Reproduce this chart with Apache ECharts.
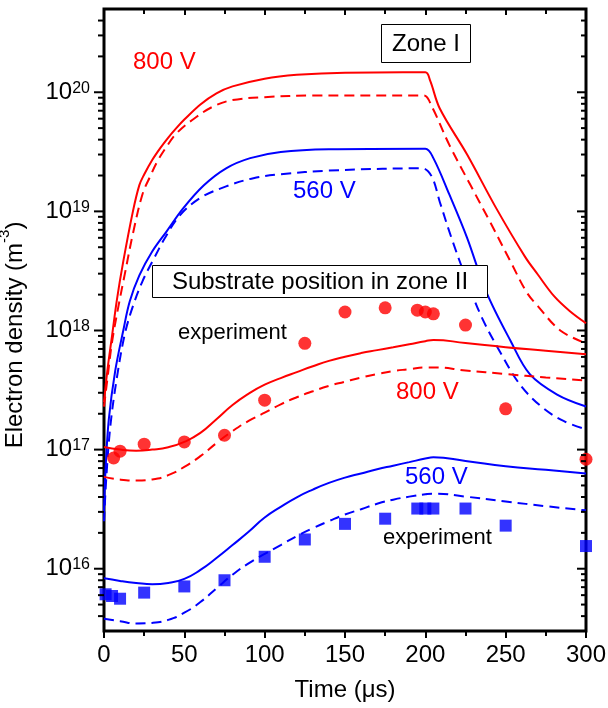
<!DOCTYPE html>
<html>
<head>
<meta charset="utf-8">
<script src="https://cdn.jsdelivr.net/npm/echarts@6/dist/echarts.min.js"></script>
<style>
  html, body { margin: 0; padding: 0; background: #fff; }
  #chart { width: 608px; height: 708px; }
</style>
</head>
<body>
<div id="chart"></div>
<script>
// time in us, electron density in m^-3
// zone I, 800 V
const zone1Red800 = [[0,2.5e17],[2,4.5e17],[5,9e17],[8,1.8e18],[12,3.8e18],[18,1e19],[22,1.66e19],[25,2.04e19],[30,2.7e19],[35,3.4e19],[40,4.17e19],[45,5e19],[50,5.9e19],[60,7.9e19],[70,9.8e19],[80,1.12e20],[100,1.3e20],[120,1.4e20],[150,1.46e20],[200,1.47e20],[203,1.25e20],[209,7.3e19],[226,3e19],[244,1.07e19],[262,4.17e18],[270,2.95e18],[280,1.95e18],[290,1.45e18],[300,1.15e18]];
const zone1Red800Dash = [[0,2.3e17],[2,3.8e17],[5,8e17],[9,1.6e18],[13,3e18],[18,6.5e18],[24,1.4e19],[29,2e19],[33,2.6e19],[39,3.5e19],[45,4.5e19],[56,6e19],[68,7.6e19],[80,8.6e19],[100,9.1e19],[130,9.4e19],[199,9.4e19],[204,7.6e19],[215,3.6e19],[228,1.67e19],[240,8.3e18],[253,3.8e18],[263,2.1e18],[270,1.6e18],[284,1e18],[300,7.8e17]];
// zone I, 560 V
const zone1Blue560 = [[0,3e16],[1,7e16],[3,1.8e17],[7,4.6e17],[12,1e18],[16,1.75e18],[22,2.9e18],[30,4.6e18],[39,6.8e18],[49,1.05e19],[62,1.65e19],[76,2.3e19],[91,2.8e19],[110,3.15e19],[140,3.32e19],[200,3.36e19],[205,2.8e19],[215,1.38e19],[226,6e18],[238,2.1e18],[253,8.2e17],[265,4.3e17],[282,2.9e17],[300,2.3e17]];
const zone1Blue560Dash = [[0,2.5e16],[1.5,6e16],[4,1.6e17],[8,4e17],[13,9.4e17],[18,1.6e18],[24,2.6e18],[31,4e18],[38,6e18],[47,9.2e18],[60,1.3e19],[76,1.62e19],[93,1.9e19],[110,2.05e19],[140,2.2e19],[198,2.3e19],[204,1.96e19],[209,1.2e19],[217,5.6e18],[226,2.6e18],[235,1.3e18],[246,6.8e17],[259,3.5e17],[273,2.25e17],[286,1.74e17],[300,1.48e17]];
// substrate in zone II (t = 0..200 step 10, then 205, 225, 250, 275, 300)
const zone2Time = [0,10,20,30,40,50,60,70,80,90,100,110,120,130,140,150,160,170,180,190,200,205,225,250,275,300];
const zone2Red800 = [1.05e17,1e17,9.8e16,1e17,1.047e17,1.16e17,1.38e17,1.8e17,2.37e17,2.95e17,3.51e17,3.98e17,4.47e17,5.01e17,5.56e17,6.03e17,6.46e17,6.84e17,7.24e17,7.67e17,8.13e17,8.32e17,7.85e17,7.24e17,6.76e17,6.31e17];
const zone2Red800Dash = [5.9e16,5.6e16,5.5e16,5.62e16,6.1e16,7.16e16,8.81e16,1.135e17,1.43e17,1.74e17,2.04e17,2.4e17,2.75e17,3.09e17,3.43e17,3.72e17,4.03e17,4.31e17,4.57e17,4.73e17,4.9e17,4.9e17,4.62e17,4.31e17,4.03e17,3.8e17];
const zone2Blue560 = [8.3e15,7.9e15,7.6e15,7.41e15,7.59e15,8.22e15,9.77e15,1.23e16,1.58e16,2.04e16,2.69e16,3.31e16,3.98e16,4.62e16,5.25e16,5.82e16,6.31e16,6.84e16,7.33e16,7.85e16,8.41e16,8.61e16,8.04e16,7.24e16,6.76e16,6.31e16];
const zone2Blue560Dash = [3.8e15,3.63e15,3.47e15,3.51e15,3.72e15,4.27e15,5.25e15,6.84e15,8.91e15,1.11e16,1.33e16,1.58e16,1.88e16,2.19e16,2.51e16,2.85e16,3.16e16,3.51e16,3.8e16,4.03e16,4.22e16,4.27e16,4.03e16,3.67e16,3.35e16,3.09e16];
// experiment
const expRed800 = [[6,8.5e16],[10,9.7e16],[25,1.11e17],[50,1.16e17],[75,1.32e17],[100,2.6e17],[125,7.8e17],[150,1.43e18],[175,1.55e18],[195,1.48e18],[200,1.43e18],[205,1.38e18],[225,1.11e18],[250,2.2e17],[300,8.3e16]];
const expBlue560 = [[1,6.1e15],[5,5.9e15],[10,5.6e15],[25,6.3e15],[50,7.1e15],[75,8e15],[100,1.26e16],[125,1.76e16],[150,2.38e16],[175,2.63e16],[195,3.2e16],[200,3.2e16],[205,3.2e16],[225,3.2e16],[250,2.3e16],[300,1.55e16]];

// axis ticks
const yDecades = [15, 16, 17, 18, 19, 20];
const yMinorSteps = [2, 3, 4, 5, 6, 7, 8, 9];
const yMin = 3e15, yMax = 5e20;

const RED = '#ff0000', BLUE = '#0000ff';
const FONT = 'Liberation Sans';

let yTicks = [];
for (const d of yDecades) {
    if (d >= 16) yTicks.push([0, Math.pow(10, d), 1]);
    for (const m of yMinorSteps) {
        const v = m * Math.pow(10, d);
        if (v > yMin && v < yMax) yTicks.push([0, v, 0]);
    }
}

function pairs(xs, ys) {
    return xs.map(function (x, i) { return [x, ys[i]]; });
}

function curve(data, color, dashed, smooth) {
    return {
        type: 'line',
        data: data,
        smooth: smooth,
        showSymbol: false,
        symbol: 'none',
        lineStyle: { color: color, width: 2, type: dashed ? [10, 6] : 'solid' },
        z: 3
    };
}

const chart = echarts.init(document.getElementById('chart'));
chart.setOption({
    backgroundColor: '#fff',
    animation: false,
    grid: {
        left: 104, right: 22, top: 9, bottom: 77,
        outerBoundsMode: 'none',
        show: true, borderColor: '#000', borderWidth: 3
    },
    xAxis: [{
        type: 'value',
        min: 0, max: 300, interval: 50,
        name: 'Time (\u03bcs)',
        nameLocation: 'middle',
        nameGap: 47,
        nameTextStyle: { fontFamily: FONT, fontSize: 24, color: '#000' },
        axisLine: { show: false },
        axisTick: { show: true, inside: false, length: 7, lineStyle: { color: '#000', width: 2 } },
        minorTick: { show: true, splitNumber: 2, length: 5, lineStyle: { color: '#000', width: 2 } },
        axisLabel: { margin: 12, fontFamily: FONT, fontSize: 24, color: '#000' },
        splitLine: { show: false }
    }, {
        type: 'value',
        position: 'top',
        min: 0, max: 300, interval: 50,
        axisLine: { show: false },
        axisTick: { show: true, inside: true, length: 6, lineStyle: { color: '#000', width: 2 } },
        minorTick: { show: true, splitNumber: 2, length: 5, lineStyle: { color: '#000', width: 2 } },
        axisLabel: { show: false },
        splitLine: { show: false }
    }],
    yAxis: {
        type: 'log',
        logBase: 10,
        min: yMin, max: yMax,
        name: '{n|Electron density (m}{s|-3}{n|)}',
        nameLocation: 'middle',
        nameGap: 77,
        nameRotate: 90,
        nameTextStyle: {
            padding: [0, 30, 0, 0],
            rich: {
                n: { fontFamily: FONT, fontSize: 24, color: '#000', lineHeight: 30, verticalAlign: 'bottom' },
                s: { fontFamily: FONT, fontSize: 15, color: '#000', lineHeight: 18, verticalAlign: 'top' }
            }
        },
        axisLine: { show: false },
        axisTick: { show: false },
        splitLine: { show: false },
        axisLabel: {
            margin: 14,
            showMinLabel: false,
            showMaxLabel: false,
            formatter: function (v) {
                return '{b|10}{s|' + Math.round(Math.log10(v)) + '}';
            },
            rich: {
                b: { fontFamily: FONT, fontSize: 24, color: '#000', lineHeight: 24, verticalAlign: 'bottom' },
                s: { fontFamily: FONT, fontSize: 16, color: '#000', lineHeight: 16, verticalAlign: 'top' }
            },
            lineHeight: 30
        }
    },
    series: [
        curve(zone1Red800, RED, false, 0.35),
        curve(zone1Red800Dash, RED, true, 0.35),
        curve(zone1Blue560, BLUE, false, 0.35),
        curve(zone1Blue560Dash, BLUE, true, 0.35),
        curve(pairs(zone2Time, zone2Red800), RED, false, 0.5),
        curve(pairs(zone2Time, zone2Red800Dash), RED, true, 0.5),
        curve(pairs(zone2Time, zone2Blue560), BLUE, false, 0.5),
        curve(pairs(zone2Time, zone2Blue560Dash), BLUE, true, 0.5),
        {
            type: 'scatter', data: expRed800, symbol: 'circle', symbolSize: 13,
            itemStyle: { color: RED }, z: 4
        },
        {
            type: 'scatter', data: expBlue560, symbol: 'rect', symbolSize: 12,
            itemStyle: { color: BLUE }, z: 4
        },
        {
            // log minor/major ticks on left (outside) and right (inside)
            type: 'custom',
            data: yTicks,
            silent: true,
            clip: false,
            z: 5,
            renderItem: function (params, api) {
                const v = api.value(1);
                const major = api.value(2) === 1;
                const l = api.coord([0, v]);
                const r = api.coord([300, v]);
                const st = { stroke: '#000', lineWidth: 2 };
                return {
                    type: 'group',
                    children: [
                        { type: 'line', shape: { x1: l[0] - (major ? 10 : 6), y1: l[1], x2: l[0], y2: l[1] }, style: st },
                        { type: 'line', shape: { x1: r[0], y1: r[1], x2: r[0] - (major ? 9 : 5), y2: r[1] }, style: st }
                    ]
                };
            }
        }
    ],
    graphic: [
        { type: 'text', x: 133, y: 62, z: 100, style: { text: '800 V', fill: RED, font: '24px "Liberation Sans"', textAlign: 'left', textVerticalAlign: 'middle' } },
        { type: 'rect', z: 100, shape: { x: 381.5, y: 24.5, width: 89, height: 38 }, style: { fill: '#fff', stroke: '#000', lineWidth: 1 } },
        { type: 'text', x: 426, y: 44, z: 101, style: { text: 'Zone I', fill: '#000', font: '24px "Liberation Sans"', textAlign: 'center', textVerticalAlign: 'middle' } },
        { type: 'text', x: 293, y: 191, z: 100, style: { text: '560 V', fill: BLUE, font: '24px "Liberation Sans"', textAlign: 'left', textVerticalAlign: 'middle' } },
        { type: 'rect', z: 100, shape: { x: 152.5, y: 265.5, width: 335, height: 32 }, style: { fill: '#fff', stroke: '#000', lineWidth: 1 } },
        { type: 'text', x: 320, y: 282, z: 101, style: { text: 'Substrate position in zone II', fill: '#000', font: '24px "Liberation Sans"', textAlign: 'center', textVerticalAlign: 'middle' } },
        { type: 'text', x: 178, y: 333, z: 100, style: { text: 'experiment', fill: '#000', font: '22px "Liberation Sans"', textAlign: 'left', textVerticalAlign: 'middle' } },
        { type: 'text', x: 396, y: 392, z: 100, style: { text: '800 V', fill: RED, font: '24px "Liberation Sans"', textAlign: 'left', textVerticalAlign: 'middle' } },
        { type: 'text', x: 405, y: 477, z: 100, style: { text: '560 V', fill: BLUE, font: '24px "Liberation Sans"', textAlign: 'left', textVerticalAlign: 'middle' } },
        { type: 'text', x: 383, y: 538, z: 100, style: { text: 'experiment', fill: '#000', font: '22px "Liberation Sans"', textAlign: 'left', textVerticalAlign: 'middle' } }
    ]
});
window.addEventListener('resize', function () { chart.resize(); });
</script>
</body>
</html>
